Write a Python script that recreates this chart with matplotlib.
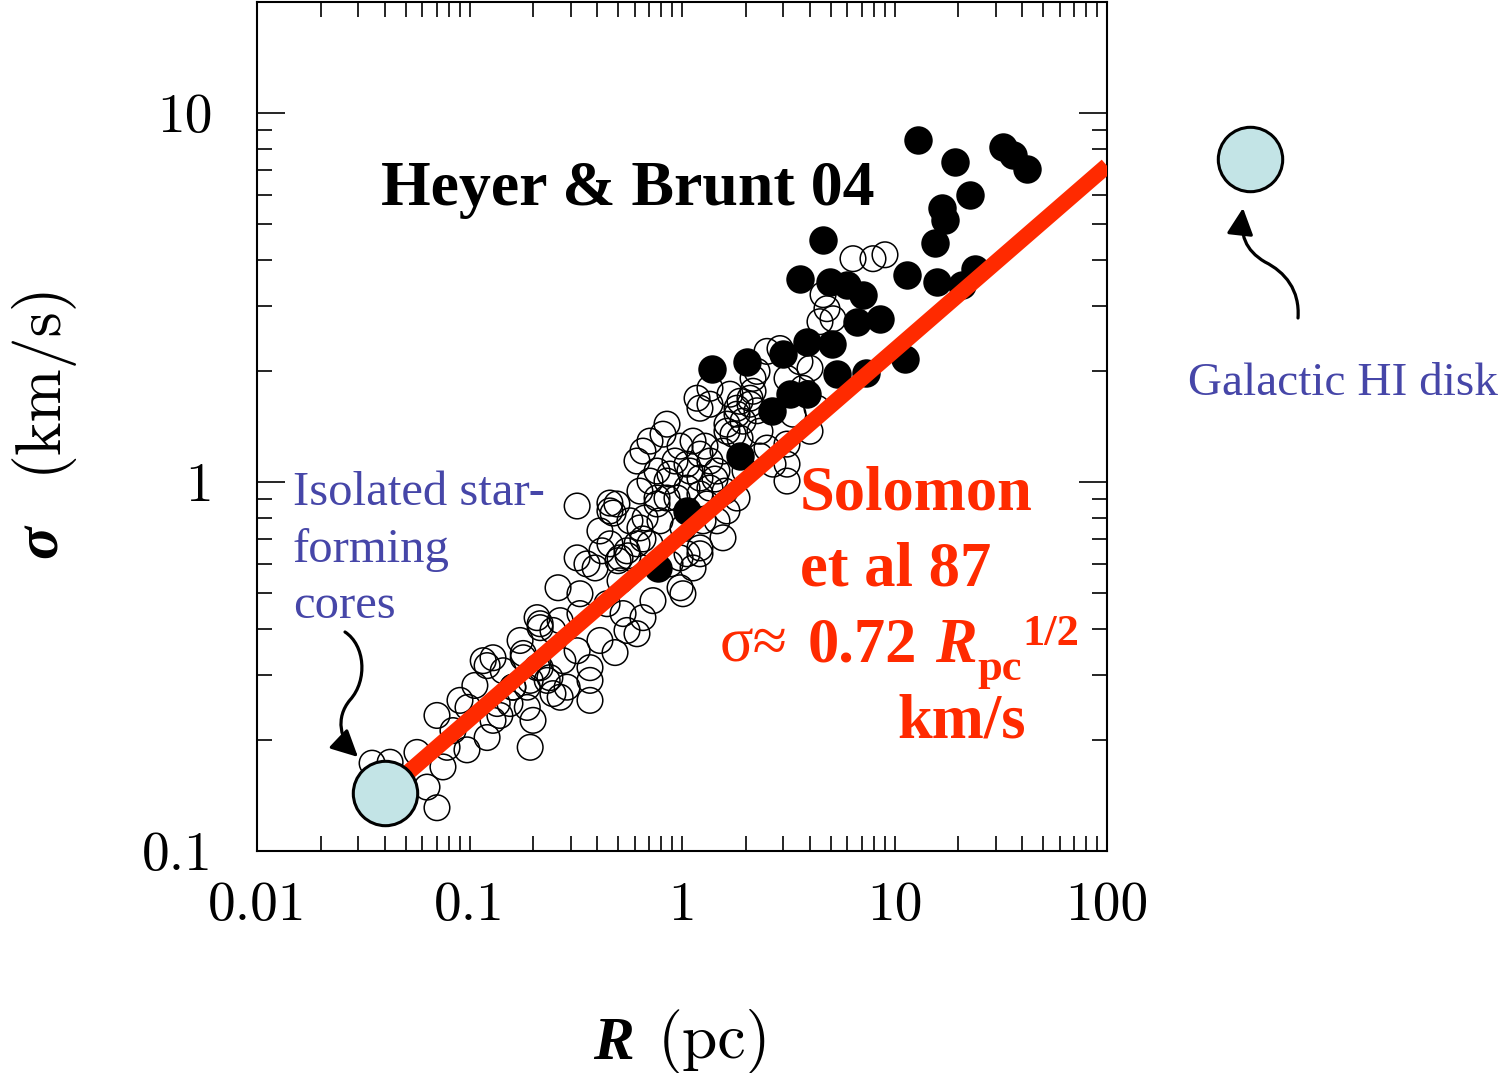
import matplotlib
matplotlib.use("Agg")
import matplotlib.pyplot as plt
from matplotlib.ticker import FixedLocator, FixedFormatter, LogLocator, NullFormatter
from matplotlib.patches import FancyArrowPatch
from matplotlib.path import Path

# --- data (R in pc, sigma in km/s) ---
# open circles: Solomon et al 87 / cores compilation
open_R = [
    0.0348, 0.0423, 0.0566, 0.0631, 0.0703, 0.075, 0.0784, 0.0703, 0.0836, 0.0973,
    0.0984, 0.106, 0.121, 0.129, 0.139, 0.121, 0.116, 0.144, 0.135, 0.155,
    0.187, 0.193, 0.179, 0.199, 0.160, 0.187, 0.208, 0.215, 0.239, 0.247,
    0.321, 0.458, 0.474, 0.321, 0.420, 0.390, 0.357, 0.500, 0.557, 0.655,
    0.670, 0.261, 0.331, 0.511, 0.208, 0.215, 0.247, 0.331, 0.321, 0.369,
    0.484, 0.551, 0.614, 0.655, 0.528, 0.444, 0.730, 0.979, 1.01, 0.878,
    1.056, 1.127, 1.215, 0.129, 0.179, 0.215, 0.275, 0.288, 0.232, 0.193,
    0.160, 0.267, 0.369, 0.634, 0.763, 0.850,
    1.215, 1.177, 1.354, 0.850, 0.707, 0.655, 0.814, 0.614, 0.494, 0.458,
    0.458, 0.634, 0.707, 0.551, 0.763, 0.878, 1.056, 1.215, 1.354, 1.215,
    1.056, 0.947, 0.763, 0.788, 0.850, 1.215, 1.354, 1.461, 1.559, 1.738,
    1.628, 1.815, 2.089, 1.875, 2.159, 2.254, 2.681, 3.120, 3.120, 1.815,
    1.628, 1.461, 1.559, 1.256, 1.011, 1.311, 1.215, 0.979, 0.614, 0.511,
    3.120, 2.512,
    6.378, 7.92, 9.02, 4.61, 4.81, 5.135, 4.46, 2.892, 2.512, 3.59,
    4.003, 2.159, 1.682, 1.354, 1.815, 2.089, 2.254, 1.937, 1.628, 1.875,
    2.328, 4.003, 3.33, 4.318, 3.71, 3.12,
    0.979, 1.127, 1.283, 1.090, 0.927, 1.430, 1.594, 1.980, 2.328, 0.707,
    0.569, 0.411, 0.267, 0.411, 0.173, 0.0902, 0.369,
]
open_sigma = [
    0.173, 0.174, 0.185, 0.149, 0.131, 0.169, 0.191, 0.233, 0.212, 0.188,
    0.245, 0.281, 0.203, 0.226, 0.233, 0.318, 0.328, 0.308, 0.251, 0.251,
    0.245, 0.191, 0.343, 0.226, 0.278, 0.278, 0.314, 0.403, 0.295, 0.267,
    0.861, 0.877, 0.824, 0.623, 0.651, 0.585, 0.600, 0.612, 0.631, 0.701,
    0.799, 0.517, 0.498, 0.540, 0.429, 0.413, 0.396, 0.440, 0.349, 0.314,
    0.345, 0.396, 0.388, 0.429, 0.440, 0.468, 0.477, 0.517, 0.498, 0.600,
    0.639, 0.585, 0.639, 0.334, 0.334, 0.314, 0.328, 0.278, 0.290, 0.290,
    0.278, 0.261, 0.290, 0.945, 0.905, 1.006,
    1.585, 1.687, 1.795, 1.435, 1.291, 1.213, 1.348, 1.14, 0.872, 0.835,
    0.680, 0.751, 0.680, 0.651, 1.071, 1.051, 1.118, 1.19, 1.14, 1.025,
    0.963, 0.905, 0.872, 0.785, 0.905, 0.928, 0.963, 1.071, 1.213, 1.348,
    1.435, 1.527, 1.625, 1.655, 1.762, 1.995, 1.118, 1.118, 1.006, 0.905,
    0.835, 0.785, 0.706, 0.785, 0.751, 0.872, 0.663, 0.623, 0.680, 0.623,
    1.267, 1.236,
    4.03, 4.03, 4.13, 3.22, 2.95, 2.77, 2.72, 2.30, 2.26, 2.12,
    2.033, 1.91, 1.73, 1.625, 1.585, 1.687, 1.56, 1.462, 1.373, 1.315,
    1.373, 1.373, 1.527, 1.585, 1.795, 1.91,
    1.251, 1.291, 1.251, 1.071, 1.14, 1.019, 0.945, 1.071, 1.176, 1.006,
    0.785, 0.737, 0.421, 0.372, 0.372, 0.256, 0.256,
]

# filled circles: Heyer & Brunt 04
hb_R = [12.9, 19.3, 32.4, 36.1, 42.0, 22.7, 16.7, 17.3, 15.5, 4.61,
        11.45, 15.8, 20.8, 23.9, 3.59, 4.97, 5.98, 7.11, 8.55, 6.66,
        1.38, 2.02, 2.99, 3.88, 5.08, 5.36, 7.34, 11.2, 3.22, 3.88,
        2.65, 1.87, 1.06, 0.771]
hb_sigma = [8.45, 7.37, 8.09, 7.70, 7.06, 6.00, 5.54, 5.14, 4.45, 4.54,
            3.65, 3.49, 3.43, 3.79, 3.56, 3.49, 3.43, 3.22, 2.77, 2.72,
            2.02, 2.12, 2.22, 2.40, 2.36, 1.96, 1.97, 2.16, 1.73, 1.73,
            1.56, 1.18, 0.835, 0.585]

# Larson-type relation, sigma ~ 0.72 R^1/2
line_R = [0.04, 100]
line_sigma = [0.144, 7.2]

# highlighted objects
cores_R, cores_sigma = [0.040], [0.144]
hi_disk_R, hi_disk_sigma = [470], [7.5]

x_ticks = [0.01, 0.1, 1, 10, 100]
x_labels = ["0.01", "0.1", "1", "10", "100"]
y_ticks = [0.1, 1, 10]
y_labels = ["0.1", "1", "10"]

W, H = 1507, 1073
RED = "#FF2A00"
BLUE = "#4646A8"
SERIF = ["Liberation Serif", "DejaVu Serif"]
CM = ["cmr10", "DejaVu Serif"]

fig = plt.figure(figsize=(W / 100, H / 100), dpi=100)
ax = fig.add_axes([257 / W, 1 - 851 / H, 850 / W, 849 / H])
ax.set_xscale("log")
ax.set_yscale("log")
ax.set_xlim(0.01, 100)
ax.set_ylim(0.1, 20)

ax.scatter(open_R, open_sigma, s=340, facecolors="none", edgecolors="black",
           linewidths=1.1, zorder=2)
ax.scatter(hb_R, hb_sigma, s=420, color="black", linewidths=0, zorder=3)
ax.plot(line_R, line_sigma, color=RED, lw=11.5, solid_capstyle="butt", zorder=4)
ax.scatter(cores_R, cores_sigma, s=2150, color="#C3E4E6", edgecolors="black",
           linewidths=2.2, zorder=5)
ax.scatter(hi_disk_R, hi_disk_sigma, s=2150, color="#C3E4E6", edgecolors="black",
           linewidths=2.2, zorder=5, clip_on=False)

ax.xaxis.set_major_locator(FixedLocator(x_ticks))
ax.xaxis.set_major_formatter(FixedFormatter(x_labels))
ax.yaxis.set_major_locator(FixedLocator(y_ticks))
ax.yaxis.set_major_formatter(FixedFormatter(y_labels))
for axis in (ax.xaxis, ax.yaxis):
    axis.set_minor_locator(LogLocator(base=10, subs=range(2, 10), numticks=20))
    axis.set_minor_formatter(NullFormatter())

ax.tick_params(which="both", direction="in", top=True, right=True, width=1.2)
ax.tick_params(axis="x", which="both", length=11, pad=22)
ax.tick_params(axis="y", which="major", length=20, pad=32)
ax.tick_params(axis="y", which="minor", length=11)
for lab in ax.get_xticklabels() + ax.get_yticklabels():
    lab.set_family(CM)
    lab.set_fontsize(40)
for sp in ax.spines.values():
    sp.set_linewidth(1.5)

# overlay in pixel coordinates for annotations
ov = fig.add_axes([0, 0, 1, 1])
ov.set_xlim(0, W)
ov.set_ylim(H, 0)
ov.axis("off")
ov.patch.set_alpha(0)

ov.text(628, 205, "Heyer & Brunt 04", family=SERIF, weight="bold", fontsize=46,
        ha="center", va="baseline")

ov.text(800, 510, "Solomon", family=SERIF, weight="bold", fontsize=45,
        color=RED, va="baseline")
ov.text(800, 586, "et al 87", family=SERIF, weight="bold", fontsize=45,
        color=RED, va="baseline")
ov.text(720, 662, "σ≈", family=SERIF, fontsize=45, color=RED, va="baseline")
ov.text(808, 662, "0.72", family=SERIF, weight="bold", fontsize=45, color=RED,
        va="baseline")
ov.text(935, 662, "R", family=SERIF, weight="bold", style="italic", fontsize=45,
        color=RED, va="baseline")
ov.text(977, 680, "pc", family=SERIF, weight="bold", fontsize=32, color=RED,
        va="baseline")
ov.text(1022, 645, "1/2", family=SERIF, weight="bold", fontsize=32, color=RED,
        va="baseline")
ov.text(897, 738, "km/s", family=SERIF, weight="bold", fontsize=45, color=RED,
        va="baseline")

for txt, yb in [("Isolated star-", 505), ("forming", 562), ("cores", 618)]:
    ov.text(293, yb, txt, family=SERIF, fontsize=35, color=BLUE, va="baseline")
ov.text(1188, 395, "Galactic HI disk", family=SERIF, fontsize=34, color=BLUE,
        va="baseline")

# axis labels
ov.text(42, 541, "σ", family=SERIF, weight="bold", style="italic", fontsize=44,
        rotation=90, ha="center", va="center")
ov.text(38, 376, "(km/s)", family=CM, fontsize=46, rotation=90,
        ha="center", va="center")
ov.text(613, 1044, "R", family=SERIF, weight="bold", style="italic", fontsize=44,
        ha="center", va="center")
ov.text(715, 1042, "(pc)", family=CM, fontsize=46, ha="center", va="center")

# curly arrows
arrow_kw = dict(arrowstyle="-|>,head_length=0.9,head_width=0.45",
                mutation_scale=18, lw=2.3, color="black",
                transform=ov.transData)
p1 = Path([(345, 632), (365, 645), (368, 680), (350, 700),
           (335, 718), (340, 740), (358, 757)],
          [Path.MOVETO, Path.CURVE4, Path.CURVE4, Path.CURVE4,
           Path.CURVE4, Path.CURVE4, Path.CURVE4])
p2 = Path([(1298, 318), (1300, 290), (1285, 272), (1265, 262),
           (1245, 250), (1240, 235), (1243, 208)],
          [Path.MOVETO, Path.CURVE4, Path.CURVE4, Path.CURVE4,
           Path.CURVE4, Path.CURVE4, Path.CURVE4])
ov.add_patch(FancyArrowPatch(path=p1, **arrow_kw))
ov.add_patch(FancyArrowPatch(path=p2, **arrow_kw))

fig.savefig("out.png", dpi=100)
